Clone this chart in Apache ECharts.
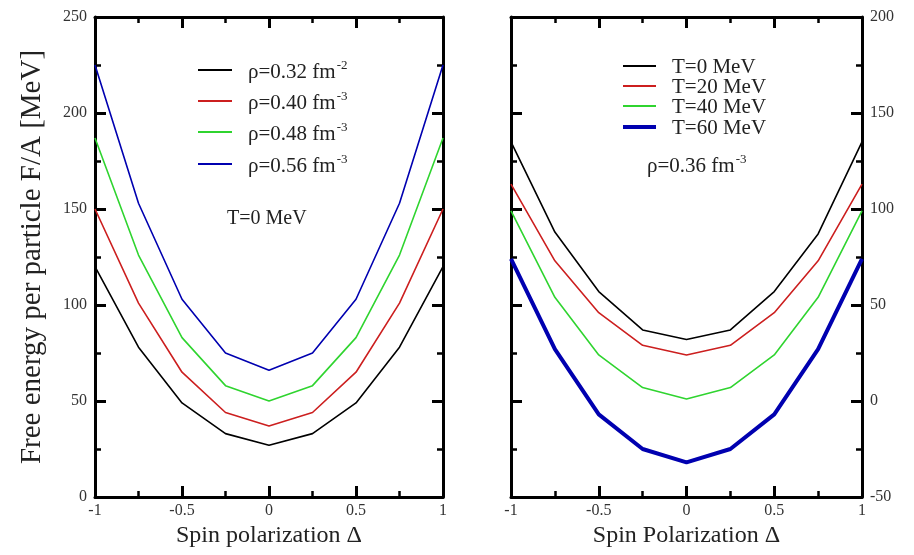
<!DOCTYPE html>
<html><head><meta charset="utf-8">
<script src="https://cdn.jsdelivr.net/npm/echarts@6/dist/echarts.min.js"></script>
<style>html,body{margin:0;padding:0;background:#fff}#c{width:914px;height:555px}</style>
</head><body><div id="c"></div>
<script>
const delta = [-1, -0.75, -0.5, -0.25, 0, 0.25, 0.5, 0.75, 1];
// Left panel: T = 0 MeV, different densities
const leftNames = ['ρ=0.32 fm', 'ρ=0.40 fm', 'ρ=0.48 fm', 'ρ=0.56 fm'];
const leftSup = ['-2', '-3', '-3', '-3'];
const rho032 = [120, 78, 49, 33, 27, 33, 49, 78, 120];
const rho040 = [150, 101, 65, 44, 37, 44, 65, 101, 150];
const rho048 = [187, 126, 83, 58, 50, 58, 83, 126, 187];
const rho056 = [225, 153, 103, 75, 66, 75, 103, 153, 225];
// Right panel: rho = 0.36 fm^-3, different temperatures
const rightNames = ['T=0 MeV', 'T=20 MeV', 'T=40 MeV', 'T=60 MeV'];
const t0 = [135, 88, 57, 37, 32, 37, 57, 87, 135];
const t20 = [113, 73, 46, 29, 24, 29, 46, 73, 113];
const t40 = [99, 54, 24, 7, 1, 7, 24, 54, 99];
const t60 = [74, 27, -7, -25, -32, -25, -7, 27, 74];
const xTicks = [-1, -0.5, 0, 0.5, 1];
const leftYTicks = [0, 50, 100, 150, 200, 250];
const rightYTicks = [-50, 0, 50, 100, 150, 200];

const colors = ['#000000', '#cc1f1f', '#2fd42f', '#0000b0'];
const rightWidths = [1.6, 1.6, 1.6, 4];
const FONT = 'Liberation Serif';

function pairs(v) { return delta.map((d, i) => [d, v[i]]); }

const axisLine = {show: true, onZero: false, lineStyle: {color: '#000', width: 3}};
const tick = {show: true, inside: true, length: 11, lineStyle: {color: '#000', width: 3}};
const minor = {show: true, splitNumber: 2, length: 6, lineStyle: {color: '#000', width: 2.5}};
const lblStyle = {fontFamily: FONT, fontSize: 16, color: '#333'};

function xAxes(gi, name) {
  return [
    {gridIndex: gi, type: 'value', min: -1, max: 1, interval: 0.5, position: 'bottom',
     axisLine, axisTick: tick, minorTick: minor, splitLine: {show: false},
     axisLabel: Object.assign({margin: 6, formatter: v => xTicks.includes(v) ? String(v) : ''}, lblStyle),
     name, nameLocation: 'middle', nameGap: 24,
     nameTextStyle: {fontFamily: FONT, fontSize: 24, color: '#222'}},
    {gridIndex: gi, type: 'value', min: -1, max: 1, interval: 0.5, position: 'top',
     axisLine, axisTick: tick, minorTick: minor, splitLine: {show: false}, axisLabel: {show: false}}
  ];
}
function yAxes(gi, min, max, labelSide, ticks, name) {
  const main = {gridIndex: gi, type: 'value', min, max, interval: 50, position: labelSide,
    axisLine, axisTick: tick, minorTick: minor, splitLine: {show: false},
    axisLabel: Object.assign({margin: 8, formatter: v => ticks.includes(v) ? String(v) : ''}, lblStyle)};
  if (name) {
    main.name = name; main.nameLocation = 'middle'; main.nameGap = 48;
    main.nameTextStyle = {fontFamily: FONT, fontSize: 29, color: '#222'};
  }
  const other = {gridIndex: gi, type: 'value', min, max, interval: 50,
    position: labelSide === 'left' ? 'right' : 'left',
    axisLine, axisTick: tick, minorTick: minor, splitLine: {show: false}, axisLabel: {show: false}};
  return [main, other];
}

const leftData = [rho032, rho040, rho048, rho056];
const rightData = [t0, t20, t40, t60];
const series = [];
leftData.forEach((v, i) => series.push({
  name: leftNames[i], type: 'line', xAxisIndex: 0, yAxisIndex: 0, data: pairs(v),
  symbol: 'none', lineStyle: {color: colors[i], width: 1.6}, itemStyle: {color: colors[i]}
}));
rightData.forEach((v, i) => series.push({
  name: rightNames[i], type: 'line', xAxisIndex: 2, yAxisIndex: 2, data: pairs(v),
  symbol: 'none', lineStyle: {color: colors[i], width: rightWidths[i]}, itemStyle: {color: colors[i]}
}));

// Legend keys drawn as graphic elements
const graphic = [];
const leftRows = [70, 101, 132, 164];
leftNames.forEach((n, i) => {
  graphic.push({type: 'line', shape: {x1: 198, y1: leftRows[i], x2: 232, y2: leftRows[i]},
    style: {stroke: colors[i], lineWidth: 2}});
  graphic.push({type: 'text', x: 248, y: leftRows[i] + 2, style: {
    text: '{a|' + n + '}{s|' + leftSup[i] + '}', verticalAlign: 'middle',
    rich: {a: {fontFamily: FONT, fontSize: 21, fill: '#222'},
           s: {fontFamily: FONT, fontSize: 13, fill: '#222', padding: [0, 0, 13, 1]}}}});
});
const rightRows = [66, 86, 106, 127];
rightNames.forEach((n, i) => {
  graphic.push({type: 'line', shape: {x1: 623, y1: rightRows[i], x2: 656, y2: rightRows[i]},
    style: {stroke: colors[i], lineWidth: i === 3 ? 4 : 2}});
  graphic.push({type: 'text', x: 672, y: rightRows[i] + 1, style: {
    text: n, verticalAlign: 'middle', fontFamily: FONT, fontSize: 21, fill: '#222'}});
});
graphic.push({type: 'text', x: 227, y: 219, style: {text: 'T=0 MeV', verticalAlign: 'middle',
  fontFamily: FONT, fontSize: 20, fill: '#222'}});
graphic.push({type: 'text', x: 647, y: 166, style: {
  text: '{a|ρ=0.36 fm}{s|-3}', verticalAlign: 'middle',
  rich: {a: {fontFamily: FONT, fontSize: 21, fill: '#222'},
         s: {fontFamily: FONT, fontSize: 13, fill: '#222', padding: [0, 0, 13, 1]}}}});

const chart = echarts.init(document.getElementById('c'), null, {renderer: 'canvas'});
chart.setOption({
  backgroundColor: '#fff',
  animation: false,
  grid: [
    {left: 95, right: 471, top: 17, bottom: 58},
    {left: 511, right: 52, top: 17, bottom: 58}
  ],
  xAxis: [...xAxes(0, 'Spin polarization Δ'), ...xAxes(1, 'Spin Polarization Δ')],
  yAxis: [...yAxes(0, 0, 250, 'left', leftYTicks, 'Free energy per particle F/A [MeV]'),
          ...yAxes(1, -50, 200, 'right', rightYTicks, null)],
  graphic,
  series
});
</script></body></html>
